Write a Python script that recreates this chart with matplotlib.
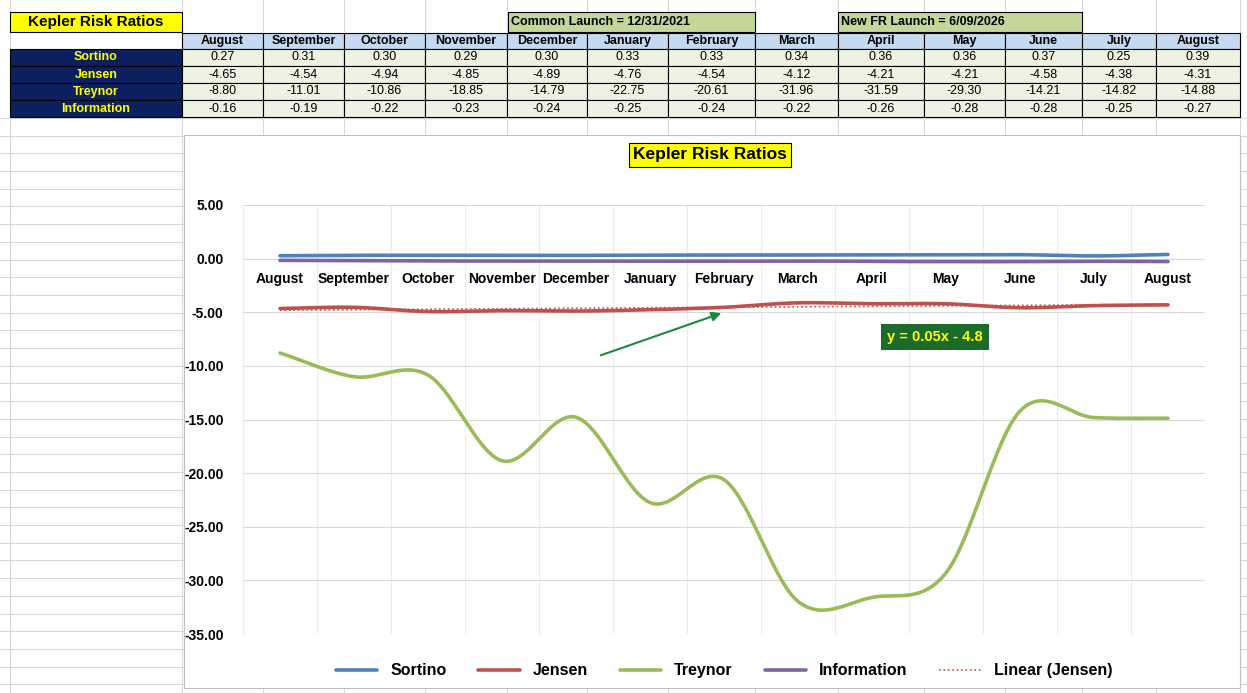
import matplotlib.pyplot as plt
import numpy as np
from matplotlib.patches import Rectangle

plt.rcParams["font.family"] = ["Liberation Sans", "DejaVu Sans"]

months = ["August", "September", "October", "November", "December", "January",
          "February", "March", "April", "May", "June", "July", "August"]
sortino = [0.27, 0.31, 0.30, 0.29, 0.30, 0.33, 0.33, 0.34, 0.36, 0.36, 0.37, 0.25, 0.39]
jensen = [-4.65, -4.54, -4.94, -4.85, -4.89, -4.76, -4.54, -4.12, -4.21, -4.21, -4.58, -4.38, -4.31]
treynor = [-8.80, -11.01, -10.86, -18.85, -14.79, -22.75, -20.61, -31.96, -31.59, -29.30,
           -14.21, -14.82, -14.88]
information = [-0.16, -0.19, -0.22, -0.23, -0.24, -0.25, -0.24, -0.22, -0.26, -0.28,
               -0.28, -0.25, -0.27]
row_names = ["Sortino", "Jensen", "Treynor", "Information"]
col_edges = [182, 263, 344, 425, 507, 587, 668, 755, 838, 924, 1005, 1082, 1156, 1240]


def smooth(y, n=24):
    # Catmull-Rom curve through the points, like Excel's smoothed line
    y = np.asarray(y, float)
    p = np.concatenate([[2 * y[0] - y[1]], y, [2 * y[-1] - y[-2]]])
    xs, ys = [], []
    for i in range(len(y) - 1):
        t = np.linspace(0, 1, n, endpoint=False)
        p0, p1, p2, p3 = p[i], p[i + 1], p[i + 2], p[i + 3]
        v = 0.5 * (2 * p1 + (-p0 + p2) * t + (2 * p0 - 5 * p1 + 4 * p2 - p3) * t ** 2
                   + (-p0 + 3 * p1 - 3 * p2 + p3) * t ** 3)
        xs.append(i + t)
        ys.append(v)
    xs.append([len(y) - 1])
    ys.append([y[-1]])
    return np.concatenate(xs), np.concatenate(ys)


W, H = 1247, 693
fig = plt.figure(figsize=(W / 100, H / 100), dpi=100)
bg = fig.add_axes([0, 0, 1, 1])
bg.set_xlim(0, W)
bg.set_ylim(H, 0)
bg.axis("off")

# spreadsheet grid
for yy in np.arange(118, H, 17.7):
    bg.plot([0, W], [yy, yy], color="#d9d9d9", lw=0.8, zorder=0)
for xx in [10] + col_edges:
    bg.plot([xx, xx], [0, H], color="#d9d9d9", lw=0.8, zorder=0)

# top boxes
bg.add_patch(Rectangle((10, 12), 172, 20, fc="#ffff00", ec="black", lw=0.8))
bg.text(96, 22, "Kepler Risk Ratios", ha="center", va="center", fontsize=11, weight="bold")
for x0, x1, txt in [(508, 755, "Common Launch = 12/31/2021"), (838, 1082, "New FR Launch = 6/09/2026")]:
    bg.add_patch(Rectangle((x0, 12), x1 - x0, 20, fc="#c4d79b", ec="black", lw=0.8))
    bg.text(x0 + 3, 22, txt, ha="left", va="center", fontsize=9, weight="bold")

# header row
for i, m in enumerate(months):
    x0, x1 = col_edges[i], col_edges[i + 1]
    bg.add_patch(Rectangle((x0, 33), x1 - x0, 16, fc="#c5d9f1", ec="black", lw=0.8))
    bg.text((x0 + x1) / 2, 41, m, ha="center", va="center", fontsize=9, weight="bold")

rows = [sortino, jensen, treynor, information]
for r, (name, vals) in enumerate(zip(row_names, rows)):
    y0 = 49 + r * 17
    bg.add_patch(Rectangle((10, y0), 172, 17, fc="#0c1f5e", ec="black", lw=0.8))
    bg.text(96, y0 + 8.5, name, ha="center", va="center", fontsize=9, weight="bold", color="#ffff00")
    for i, v in enumerate(vals):
        x0, x1 = col_edges[i], col_edges[i + 1]
        bg.add_patch(Rectangle((x0, y0), x1 - x0, 17, fc="#eef2e2", ec="black", lw=0.8))
        bg.text((x0 + x1) / 2, y0 + 8.5, f"{v:.2f}", ha="center", va="center", fontsize=9)

# chart area
bg.add_patch(Rectangle((184, 135), 1056, 553, fc="white", ec="#bfbfbf", lw=0.8, zorder=1))
bg.text(710, 155, "Kepler Risk Ratios", ha="center", va="center", fontsize=12.5, weight="bold",
        bbox=dict(boxstyle="square,pad=0.25", fc="#ffff00", ec="black", lw=0.8), zorder=3)

left, right, top, bot = 243, 1205, 205, 634
ax = fig.add_axes([left / W, 1 - bot / H, (right - left) / W, (bot - top) / H])
ax.set_xlim(-0.5, 12.5)
ax.set_ylim(-35, 5)
ax.set_facecolor("none")
for s in ax.spines.values():
    s.set_visible(False)
ax.set_yticks(np.arange(-35, 6, 5))
ax.set_yticklabels([f"{v:.2f}" for v in np.arange(-35, 6, 5)], fontsize=10, weight="bold")
ax.tick_params(length=0, pad=14)
ax.set_xticks([])
ax.grid(axis="y", color="#d9d9d9", lw=0.8)
for xb in np.arange(-0.5, 13, 1):
    ax.axvline(xb, color="#ececec", lw=0.8, zorder=0)
for i, m in enumerate(months):
    ax.text(i, -1.9, m, ha="center", va="center", fontsize=10, weight="bold")

lines = [("Sortino", sortino, "#4f81bd"), ("Jensen", jensen, "#c0504d"),
         ("Treynor", treynor, "#9bbb59"), ("Information", information, "#8064a2")]
for name, vals, c in lines:
    xs, ys = smooth(vals)
    ax.plot(xs, ys, color=c, lw=2.6, label=name, solid_capstyle="round")

xi = np.arange(len(jensen))
k, b = np.polyfit(xi, jensen, 1)
ax.plot(xi, k * xi + b, ls=":", color="#c0504d", lw=1.2, label="Linear (Jensen)")

ax.annotate("", xy=(6.0, -5.0), xytext=(4.3, -9.1),
            arrowprops=dict(arrowstyle="-|>", color="#1e8a3c", lw=1.5, mutation_scale=14))
ax.text(8.85, -7.3, "y = 0.05x - 4.8", ha="center", va="center", fontsize=10.5, weight="bold",
        color="#ffff00", bbox=dict(boxstyle="square,pad=0.4", fc="#1d6b2a", ec="none"))

leg = ax.legend(loc="upper center", bbox_to_anchor=(0.5, -0.035), ncol=5, frameon=False,
                prop=dict(size=11.5, weight="bold"), handlelength=2.6, columnspacing=2.0)

fig.savefig("out.png", dpi=100)
